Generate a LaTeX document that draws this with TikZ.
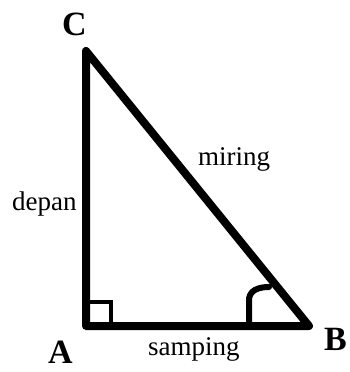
\documentclass[tikz,border=0pt]{standalone}
\usepackage{fontspec}
\setmainfont{Liberation Serif}
\tikzset{
  side/.style={line width=8pt, line join=round, line cap=round},
  rightmark/.style={line width=3.5pt},
  anglemark/.style={line width=6pt, line cap=round},
  vlabel/.style={font=\fontsize{34}{38}\selectfont\bfseries, inner sep=0pt, anchor=base west},
  slabel/.style={font=\fontsize{27}{30}\selectfont, inner sep=0pt, anchor=base west}
}
\begin{document}
\begin{tikzpicture}[x=1pt, y=-1pt]
\useasboundingbox (0,0) rectangle (350,372);
\fill[white] (0,0) rectangle (350,372);
\coordinate (A) at (86,326);
\coordinate (B) at (309,326);
\coordinate (C) at (86,51);
\draw[side] (A) -- (B) -- (C) -- cycle;
\coordinate (r1) at (86,302);
\coordinate (r2) at (111,302);
\coordinate (r3) at (111,326);
\draw[rightmark] (r1) -- (r2) -- (r3);
\coordinate (b1) at (249,326);
\coordinate (b2) at (249,302);
\coordinate (b3) at (269,287);
\draw[anglemark] (b1) -- (b2) .. controls (248,290) and (259,287) .. (b3);
\node[vlabel] (lC) at (62,35) {C};
\node[vlabel] (lA) at (48,363) {A};
\node[vlabel] (lB) at (324,350) {B};
\node[slabel] (depan) at (12,210) {depan};
\node[slabel] (miring) at (198,165) {miring};
\node[slabel] (samping) at (148,355) {samping};
\end{tikzpicture}
\end{document}
